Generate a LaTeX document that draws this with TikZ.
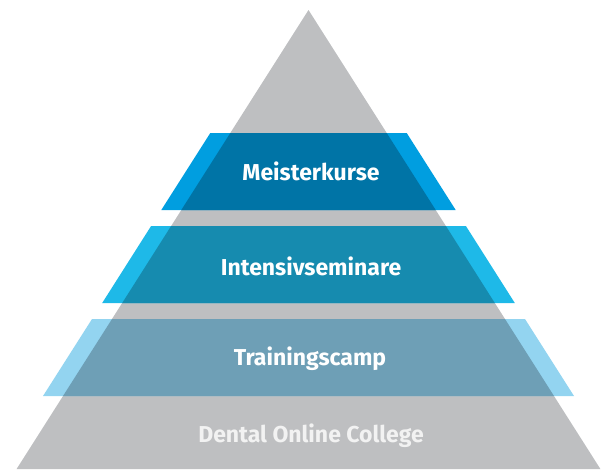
\documentclass[tikz,border=0pt]{standalone}
\usepackage{fontspec}
\setmainfont{Fira Sans}
\definecolor{pyrgrey}{RGB}{190, 191, 193}
\definecolor{meisterout}{RGB}{0, 158, 224}
\definecolor{meisterin}{RGB}{0, 116, 166}
\definecolor{intensout}{RGB}{30, 185, 232}
\definecolor{intensin}{RGB}{22, 139, 175}
\definecolor{trainout}{RGB}{147, 212, 240}
\definecolor{trainin}{RGB}{110, 159, 182}
\definecolor{basetext}{RGB}{242, 242, 242}
\tikzset{label text/.style={font=\bfseries\fontsize{23}{25}\selectfont, text=white}}

\begin{document}
\begin{tikzpicture}[x=1pt, y=-1pt]
        \useasboundingbox (0,0) rectangle (601,469);
        % grey pyramid
        \fill[pyrgrey] (308.5,10) -- (600.4,469) -- (16.6,469) -- cycle;
        % Meisterkurse
        \fill[meisterout] (210.3,133) -- (406.7,133) -- (455.7,210) -- (161.3,210) -- cycle;
        \fill[meisterin] (230.3,133) -- (386.7,133) -- (435.7,210) -- (181.3,210) -- cycle;
        \node[label text] (meister) at (311,171) {Meisterkurse};
        % Intensivseminare
        \fill[intensout] (151.1,226) -- (465.9,226) -- (514.8,303) -- (102.2,303) -- cycle;
        \fill[intensin] (171.1,226) -- (445.9,226) -- (494.8,303) -- (122.2,303) -- cycle;
        \node[label text] (intensiv) at (311,266) {Intensivseminare};
        % Trainingscamp
        \fill[trainout] (92,319) -- (525,319) -- (574,396) -- (43,396) -- cycle;
        \fill[trainin] (112,319) -- (505,319) -- (554,396) -- (63,396) -- cycle;
        \node[label text] (training) at (310,359) {Trainingscamp};
        % Basis
        \node[label text, text=basetext] (college) at (311,436) {Dental Online College};
\end{tikzpicture}
\end{document}
